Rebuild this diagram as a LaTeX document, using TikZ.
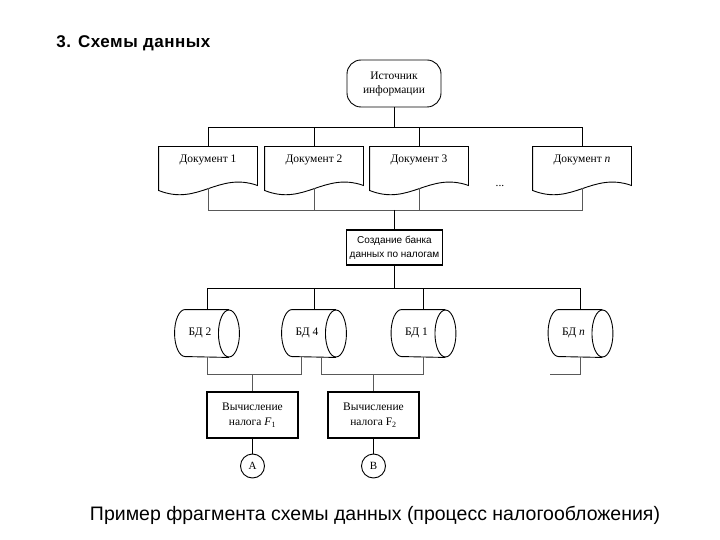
\documentclass[tikz,border=0pt]{standalone}
\usepackage{fontspec}
\setmainfont{Liberation Serif}
\newfontfamily\arialf{Liberation Sans}
\usetikzlibrary{calc}
\newcommand\docshape[1]{\draw ($(#1.north west)$) -- ($(#1.north east)$) -- ($(#1.south east)+(0,-5)$) .. controls +(-40,-14) and +(40,16) .. (#1.south west) -- cycle;}
\newcommand\cylshape[1]{\draw ($(#1.north east)+(-10.5,0)$) -- ($(#1.north west)+(10.5,0)$) arc[start angle=90, end angle=270, x radius=10.5pt, y radius=23.5pt] -- ($(#1.south east)+(-10.5,0)$);
\draw ($(#1.east)+(-10.5,0)$) ellipse[x radius=10.5pt, y radius=23.5pt];}
\begin{document}
\begin{tikzpicture}[x=1pt,y=-1pt,line width=0.9pt,
  lbl/.style={font=\fontsize{11.5}{15}\selectfont, inner sep=0pt, align=center},
  shapebox/.style={draw=none, inner sep=0pt},
  gconn/.style={draw=black!65},
  term/.style={draw, rounded corners=14pt, minimum width=94pt, minimum height=47pt, align=center, inner sep=0pt, font=\fontsize{11.5}{14}\selectfont},
  proc/.style={draw, line width=1.6pt, minimum width=91pt, minimum height=46pt, align=center, inner sep=0pt, font=\fontsize{11.5}{15}\selectfont},
  conn/.style={draw, circle, minimum size=24pt, inner sep=0pt, font=\fontsize{11}{13}\selectfont}
]
\useasboundingbox (0,0) rectangle (720,540);
% title and caption
\node[anchor=base west, inner sep=0pt, font=\arialf\bfseries\fontsize{17}{20}\selectfont\addfontfeature{LetterSpace=3}] (title) at (56,48) {3. Схемы данных};
\node[anchor=base, inner sep=0pt, font=\arialf\fontsize{19.5}{23}\selectfont] (cap) at (375,520) {Пример фрагмента схемы данных (процесс налогообложения)};
% source
\node[term] (src) at (394,83.5) {Источник\\информации};
% documents
\foreach \n/\x in {d1/208,d2/314,d3/419,dn/582}{
  \node[shapebox, minimum width=98pt, minimum height=43pt] (\n) at (\x,168.5) {};
}
\docshape{d1}\docshape{d2}\docshape{d3}\docshape{dn}
\node[lbl] (d1t) at (208,160) {Документ 1};
\node[lbl] (d2t) at (314,160) {Документ 2};
\node[lbl] (d3t) at (419,160) {Документ 3};
\node[lbl] (dnt) at (582,160) {Документ \textit{n}};
\node[lbl] (dots) at (500,186) {...};
% top bus
\coordinate (tb) at (394,127);
\draw (src.south) -- (src.south |- tb);
\draw (d1.north) -- (d1.north |- tb) -- (dn.north |- tb) -- (dn.north);
\draw (d2.north) -- (d2.north |- tb);
\draw (d3.north) -- (d3.north |- tb);
% bottom doc bus
\coordinate (bb) at (394,210);
\draw[gconn] ($(d1.south)+(0,-2)$) -- (d1.south |- bb) -- (dn.south |- bb) -- ($(dn.south)+(0,-2)$);
\draw[gconn] ($(d2.south)+(0,-2)$) -- (d2.south |- bb);
\draw[gconn] ($(d3.south)+(0,-2)$) -- (d3.south |- bb);
% data bank process
\node[proc, line width=1.8pt, minimum width=96pt, minimum height=35pt, font=\arialf\fontsize{10}{14}\selectfont] (db) at (394.5,247.5) {Создание банка\\данных по налогам};
\draw (bb) -- (bb |- db.north);
% cylinder bus
\coordinate (cbus) at (394,288);
\foreach \n/\x in {c2/207,c4/314,c1/423.5,cn/580.5}{
  \node[shapebox, minimum width=64pt, minimum height=47pt] (\n) at (\x,333.5) {};
}
\cylshape{c2}\cylshape{c4}\cylshape{c1}\cylshape{cn}
\node[lbl] (c2t) at (200,333) {БД 2};
\node[lbl] (c4t) at (307,333) {БД 4};
\node[lbl] (c1t) at (416.5,333) {БД 1};
\node[lbl] (cnt) at (573.5,333) {БД \textit{n}};
\draw (db.south) -- (db.south |- cbus);
\draw (c2.north) -- (c2.north |- cbus) -- (cn.north |- cbus) -- (cn.north);
\draw (c4.north) -- (c4.north |- cbus);
\draw (c1.north) -- (c1.north |- cbus);
% computations
\node[proc] (f1) at (252.5,415) {Вычисление\\налога \textit{F}\textsubscript{1}};
\node[proc, line width=1.3pt] (f2) at (373.5,415) {Вычисление\\налога F\textsubscript{2}};
\coordinate (lb) at (300,374);
\coordinate (cnend) at (550,374);
\draw[gconn] (c2.south) -- (c2.south |- lb) -| ($(c4.south west)+(20,0)$);
\draw[gconn] ($(c4.south west)+(40,0)$) |- (c1.south |- lb) -- (c1.south);
\draw[gconn] (cn.south) -- (cn.south |- lb) -- (cnend);
\draw[gconn] (f1.north |- lb) -- (f1.north);
\draw[gconn] (f2.north |- lb) -- (f2.north);
% connectors
\node[conn] (ca) at (252.5,466) {А};
\node[conn] (cB) at (373.5,466) {В};
\draw (f1.south) -- (ca.north);
\draw (f2.south) -- (cB.north);
\end{tikzpicture}
\end{document}
